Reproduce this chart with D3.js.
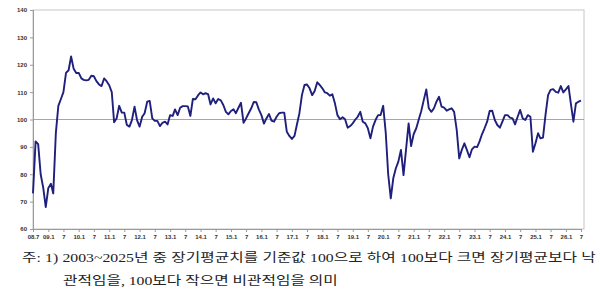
<!DOCTYPE html>
<html>
<head>
<meta charset="utf-8">
<script src="https://cdn.jsdelivr.net/npm/d3@7"></script>
<style>
  body { margin: 0; background: #fff; }
  svg { display: block; }
</style>
</head>
<body>
<svg id="chart" width="600" height="299"></svg>
<script>
// monthly index values, starting 2008.7
let startYear = 2008, startMonth = 7;
let indexValues = [
  73, 92, 91, 80, 75, 68, 75, 76.5, 73, 95, 105, 107.5,
  110, 117, 118, 123, 118.5, 117, 117, 115, 114.5, 114.3, 114.5, 116,
  115.8, 114, 112.8, 112.2, 115, 114, 112.5, 110, 99, 100.5, 105, 102.5,
  102.5, 98, 97.4, 99.8, 104.7, 99.8, 97.4, 101, 102.3, 106.5, 106.8, 100.4,
  99.5, 99.5, 97.6, 98.8, 99.2, 98.2, 101.6, 101.3, 103.7, 101.6, 104.3, 104.9,
  104.9, 104.8, 101.3, 107.5, 107.4, 108.8, 109.9, 109.2, 109.6, 109.3, 105.5, 107.7,
  105.9, 107.5, 107, 105.3, 102.8, 101.9, 103.1, 103.7, 102.3, 104.3, 106.1, 98.8,
  100.4, 102.3, 104.1, 106.4, 106.3, 103.7, 101.6, 98.5, 100.4, 102, 99.6, 99.2,
  101, 102.3, 102.5, 102.5, 95.5, 94, 92.9, 94, 98, 102.3, 108.9, 112.6,
  112.8, 111.4, 108.9, 110.4, 113.6, 112.6, 111.4, 109.9, 109.6, 108.7, 109.2, 105.9,
  101.6, 100.1, 100.8, 100.1, 97, 97.6, 98.6, 100, 101, 102.8, 99.2, 98.6,
  96.8, 93.1, 97.4, 99.8, 101.6, 101.6, 105, 95, 80, 71.2, 78.5, 82.2,
  84.6, 88.9, 79.7, 89, 98.6, 90.3, 94.7, 96.8, 99.8, 103, 107, 111,
  104.1, 102.8, 104.1, 106.5, 108.3, 104.7, 104.3, 103.2, 103.7, 104.1, 102.8, 96.2,
  85.8, 88.9, 91.3, 88.9, 86.2, 89.1, 90.1, 89.9, 91.9, 94.7, 96.8, 99.2,
  103.1, 103.2, 99.8, 98, 97, 99.2, 101.6, 101.6, 100.7, 100.4, 98.2, 101,
  103.5, 100.4, 99.8, 101.6, 101, 88.2, 91.3, 95, 93.1, 93.4, 101.6, 108.9,
  110.8, 111.1, 110.1, 109.8, 112.2, 109.9, 111, 112.2, 105.9, 99.2, 105.9, 106.5,
  106.9
];
let yTicks = [60, 70, 80, 90, 100, 110, 120, 130, 140];
let baseValue = 100;
let noteLines = [
  "주: 1) 2003~2025년 중 장기평균치를 기준값 100으로 하여 100보다 크면 장기평균보다 낙",
  "관적임을, 100보다 작으면 비관적임을 의미"
];

let svg = d3.select("#chart");
let plot = { left: 33, right: 581, frameRight: 584, top: 10, bottom: 229 };
let lineColor = "#1f1f7d";
let tickFont = "'Liberation Sans', Arial, sans-serif";

let startDate = new Date(startYear, startMonth - 1, 1);
let data = indexValues.map(function(v, i) {
    return { date: d3.timeMonth.offset(startDate, i), value: v };
});

let xScale = d3.scaleTime()
    .domain([startDate, data[data.length - 1].date])
    .range([plot.left, plot.right]);

let yScale = d3.scaleLinear()
    .domain([60, 140])
    .range([plot.bottom, plot.top]);

// frame
svg.append("rect")
    .attr("x", plot.left)
    .attr("y", plot.top)
    .attr("width", plot.frameRight - plot.left)
    .attr("height", plot.bottom - plot.top)
    .attr("fill", "none")
    .attr("stroke", "#c6c6c6")
    .attr("stroke-width", 1);

// baseline at 100
svg.append("line")
    .attr("x1", plot.left)
    .attr("x2", plot.frameRight)
    .attr("y1", yScale(baseValue))
    .attr("y2", yScale(baseValue))
    .attr("stroke", "#8f8f8f")
    .attr("stroke-width", 0.8);

// y axis
let yAxis = svg.append("g")
    .attr("transform", "translate(" + plot.left + ",0)")
    .call(d3.axisLeft(yScale).tickValues(yTicks).tickSize(3).tickPadding(3));
yAxis.select(".domain").attr("stroke", "#9a9a9a");
yAxis.selectAll(".tick line").attr("stroke", "#9a9a9a");
yAxis.selectAll("text")
    .style("font-family", tickFont)
    .style("font-weight", "bold")
    .style("font-size", "6px")
    .style("fill", "#333");

// x axis
let xTicks = d3.timeMonth.every(6).range(startDate, d3.timeMonth.offset(data[data.length - 1].date, 1));
let xAxis = svg.append("g")
    .attr("transform", "translate(0," + plot.bottom + ")")
    .call(d3.axisBottom(xScale).tickValues(xTicks).tickSize(3).tickPadding(3)
        .tickFormat(function(d, i) {
            let yy = String(d.getFullYear() % 100).padStart(2, "0");
            if (i === 0) return yy + "." + (d.getMonth() + 1);
            return d.getMonth() === 0 ? yy + ".1" : String(d.getMonth() + 1);
        }));
xAxis.select(".domain").attr("stroke", "#9a9a9a");
xAxis.selectAll(".tick line").attr("stroke", "#9a9a9a");
xAxis.selectAll("text")
    .style("font-family", tickFont)
    .style("font-weight", "bold")
    .style("font-size", "6px")
    .style("fill", "#333");

// index line
let line = d3.line()
    .x(function(d) { return xScale(d.date); })
    .y(function(d) { return yScale(d.value); });

svg.append("path")
    .datum(data)
    .attr("d", line)
    .attr("fill", "none")
    .attr("stroke", lineColor)
    .attr("stroke-width", 1.9)
    .attr("stroke-linejoin", "round");

// footnote: glyphs are widened a bit (the original uses a wide serif font),
// first line justified to the right edge with word spacing
let noteFont = "'Liberation Serif', 'Noto Sans CJK KR', serif";
function noteText(x, y, str) {
    let g = svg.append("g").attr("transform", "translate(" + x + "," + y + ")");
    let t = g.append("text")
        .text(str)
        .style("font-family", noteFont)
        .style("font-size", "12.5px")
        .style("fill", "#222");
    return { g: g, t: t, w: t.node().getComputedTextLength() };
}
let note1 = noteText(22, 262, noteLines[0]);
let note2 = noteText(63, 285, noteLines[1]);
let stretch = Math.min(275 / note2.w, 572 / note1.w);
note1.g.attr("transform", "translate(22,262) scale(" + stretch + ",1)");
note2.g.attr("transform", "translate(63,285) scale(" + stretch + ",1)");

let gaps = (noteLines[0].match(/ /g) || []).length;
note1.t.style("word-spacing", Math.max(0, (574 / stretch - note1.w) / gaps) + "px");
note2.t.style("letter-spacing",
    Math.max(0, (275 / stretch - note2.w) / (noteLines[1].length - 1)) + "px");
</script>
</body>
</html>
